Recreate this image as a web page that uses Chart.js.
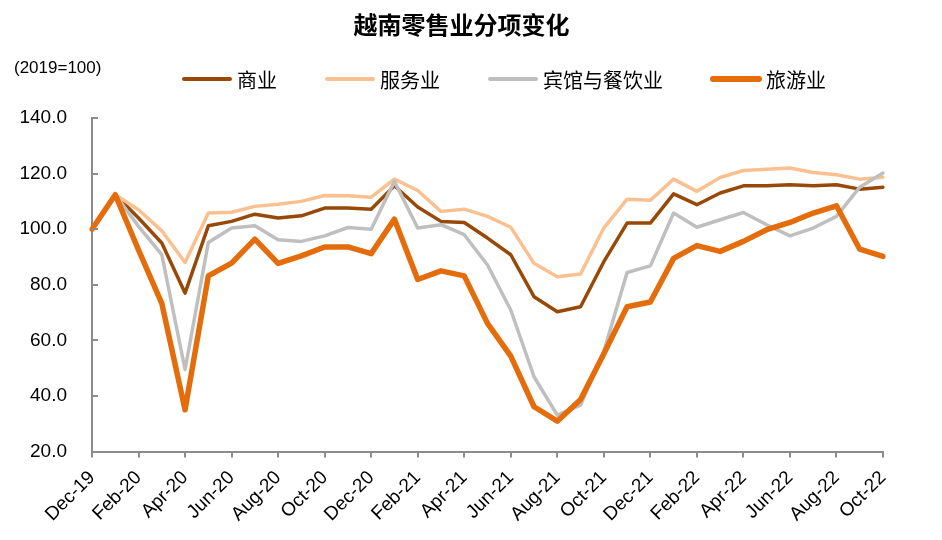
<!DOCTYPE html>
<html>
<head>
<meta charset="utf-8">
<script src="https://cdn.jsdelivr.net/npm/chart.js@4/dist/chart.umd.min.js"></script>
<style>
  html, body { margin: 0; padding: 0; background: #ffffff; }
  #wrap { width: 942px; height: 540px; }
</style>
</head>
<body>
<div id="wrap"><canvas id="c" width="942" height="540"></canvas></div>
<script>
// ---------- data ----------
const months = ["Dec-19","Jan-20","Feb-20","Mar-20","Apr-20","May-20","Jun-20","Jul-20","Aug-20","Sep-20","Oct-20","Nov-20",
  "Dec-20","Jan-21","Feb-21","Mar-21","Apr-21","May-21","Jun-21","Jul-21","Aug-21","Sep-21","Oct-21","Nov-21",
  "Dec-21","Jan-22","Feb-22","Mar-22","Apr-22","May-22","Jun-22","Jul-22","Aug-22","Sep-22","Oct-22"];

const commerce = [100,112.4,104,95,77,101.2,102.8,105.4,104,104.8,107.6,107.6,
  107.2,115.6,108,102.8,102.4,96.8,90.8,75.7,70.3,72.1,88.3,102.2,
  102.2,112.7,108.8,113,115.6,115.6,116,115.6,116,114.4,115.1];

const services = [100,112.4,107,99.4,88,105.8,106.1,108.2,109,110,112.1,112,
  111.5,118,113.9,106.4,107.2,104.6,100.7,87.7,82.9,83.9,100.4,110.8,
  110.4,118,113.6,118.6,121.1,121.6,122,120.4,119.6,118,118.7];

const hotelFood = [100,112.4,101,90.8,49.5,95.2,100.4,101.2,96.2,95.6,97.6,100.6,
  100,117.2,100.4,101.6,98,87.1,70.9,46.9,33.1,36.7,56,84.4,
  86.8,105.8,100.7,103.4,106,101.6,97.6,100.4,104.6,115.1,120.2];

const tourism = [100,112.4,92.5,73.3,35,83.2,87.8,96.4,87.7,90.4,93.6,93.6,
  91.2,103.6,81.9,85,83.2,66.1,54.3,36.1,30.9,38.7,55.2,72.1,
  73.8,89.5,94.1,92,95.6,99.8,102.4,105.8,108.4,92.8,90.2];

const seriesNames = ["商业","服务业","宾馆与餐饮业","旅游业"];
const yTicks = [20,40,60,80,100,120,140];
const titleText = "越南零售业分项变化";
const unitText = "(2019=100)";

// ---------- styles ----------
const colors = ["#984807","#FAC090","#BFBFBF","#E46C0A"];
const widths = [3.5,3.5,3.5,5.5];
const axisColor = "#8c8c8c";
const latin = "'Liberation Sans', Arial, sans-serif";
const cjk = "'Noto Sans CJK SC', 'Liberation Sans', sans-serif";

const seriesData = [commerce, services, hotelFood, tourism];

const decorPlugin = {
  id: 'decor',
  afterDraw(chart) {
    const ctx = chart.ctx;
    const ca = chart.chartArea;
    ctx.save();
    // title
    ctx.fillStyle = '#000';
    ctx.font = "bold 24px " + cjk;
    ctx.textAlign = 'center';
    ctx.textBaseline = 'middle';
    ctx.fillText(titleText, 461.5, 25);
    // unit
    ctx.font = "17px " + latin;
    ctx.textAlign = 'left';
    ctx.fillText(unitText, 14, 68);
    // legend
    let x = 182;
    const ly = 79;
    ctx.font = "20px " + cjk;
    chart.data.datasets.forEach((ds, i) => {
      ctx.beginPath();
      ctx.strokeStyle = ds.borderColor;
      ctx.lineWidth = ds.borderWidth + 0.5;
      ctx.lineCap = 'round';
      ctx.moveTo(x + 2, ly);
      ctx.lineTo(x + 48, ly);
      ctx.stroke();
      ctx.fillStyle = '#000';
      ctx.textAlign = 'left';
      ctx.textBaseline = 'middle';
      ctx.fillText(ds.label, x + 55, ly + 1);
      x += 55 + ctx.measureText(ds.label).width + 48;
    });
    // inward y tick marks
    const ys = chart.scales.y;
    ctx.strokeStyle = axisColor;
    ctx.lineWidth = 2;
    ctx.lineCap = 'butt';
    ys.ticks.forEach(t => {
      const py = Math.round(ys.getPixelForValue(t.value));
      ctx.beginPath();
      ctx.moveTo(ca.left, py);
      ctx.lineTo(ca.left + 6, py);
      ctx.stroke();
    });
    ctx.restore();
  }
};

const ds = seriesNames.map((name, i) => ({
  label: name,
  data: seriesData[i],
  borderColor: colors[i],
  backgroundColor: colors[i],
  borderWidth: widths[i],
  pointRadius: 0,
  pointHoverRadius: 0,
  tension: 0,
  borderJoinStyle: 'round',
  borderCapStyle: 'round',
  fill: false,
  order: 4 - i
}));

new Chart(document.getElementById('c'), {
  type: 'line',
  data: { labels: months, datasets: ds },
  options: {
    responsive: false,
    animation: false,
    devicePixelRatio: 1,
    layout: { padding: { top: 118, right: 59, bottom: 0, left: 20 } },
    plugins: {
      legend: { display: false },
      title: { display: false },
      tooltip: { enabled: false }
    },
    scales: {
      x: {
        type: 'category',
        offset: false,
        afterBuildTicks(scale) {
          scale.ticks = scale.ticks.filter(t => t.value % 2 === 0);
        },
        afterFit(scale) { scale.height = 88.5; },
        grid: { display: true, drawOnChartArea: false, drawTicks: true, tickLength: 6, color: axisColor, lineWidth: 2 },
        border: { display: true, color: axisColor, width: 2 },
        ticks: {
          autoSkip: false,
          minRotation: 45,
          maxRotation: 45,
          padding: 9,
          color: '#000',
          font: { family: latin, size: 19 }
        }
      },
      y: {
        min: 20,
        max: 140,
        afterBuildTicks(scale) {
          scale.ticks = yTicks.map(v => ({ value: v }));
        },
        afterFit(scale) { scale.width = 72; },
        grid: { display: false, drawTicks: false },
        border: { display: true, color: axisColor, width: 2 },
        ticks: {
          padding: 25,
          color: '#000',
          font: { family: latin, size: 19 },
          callback: v => Number(v).toFixed(1)
        }
      }
    }
  },
  plugins: [decorPlugin]
});
</script>
</body>
</html>
